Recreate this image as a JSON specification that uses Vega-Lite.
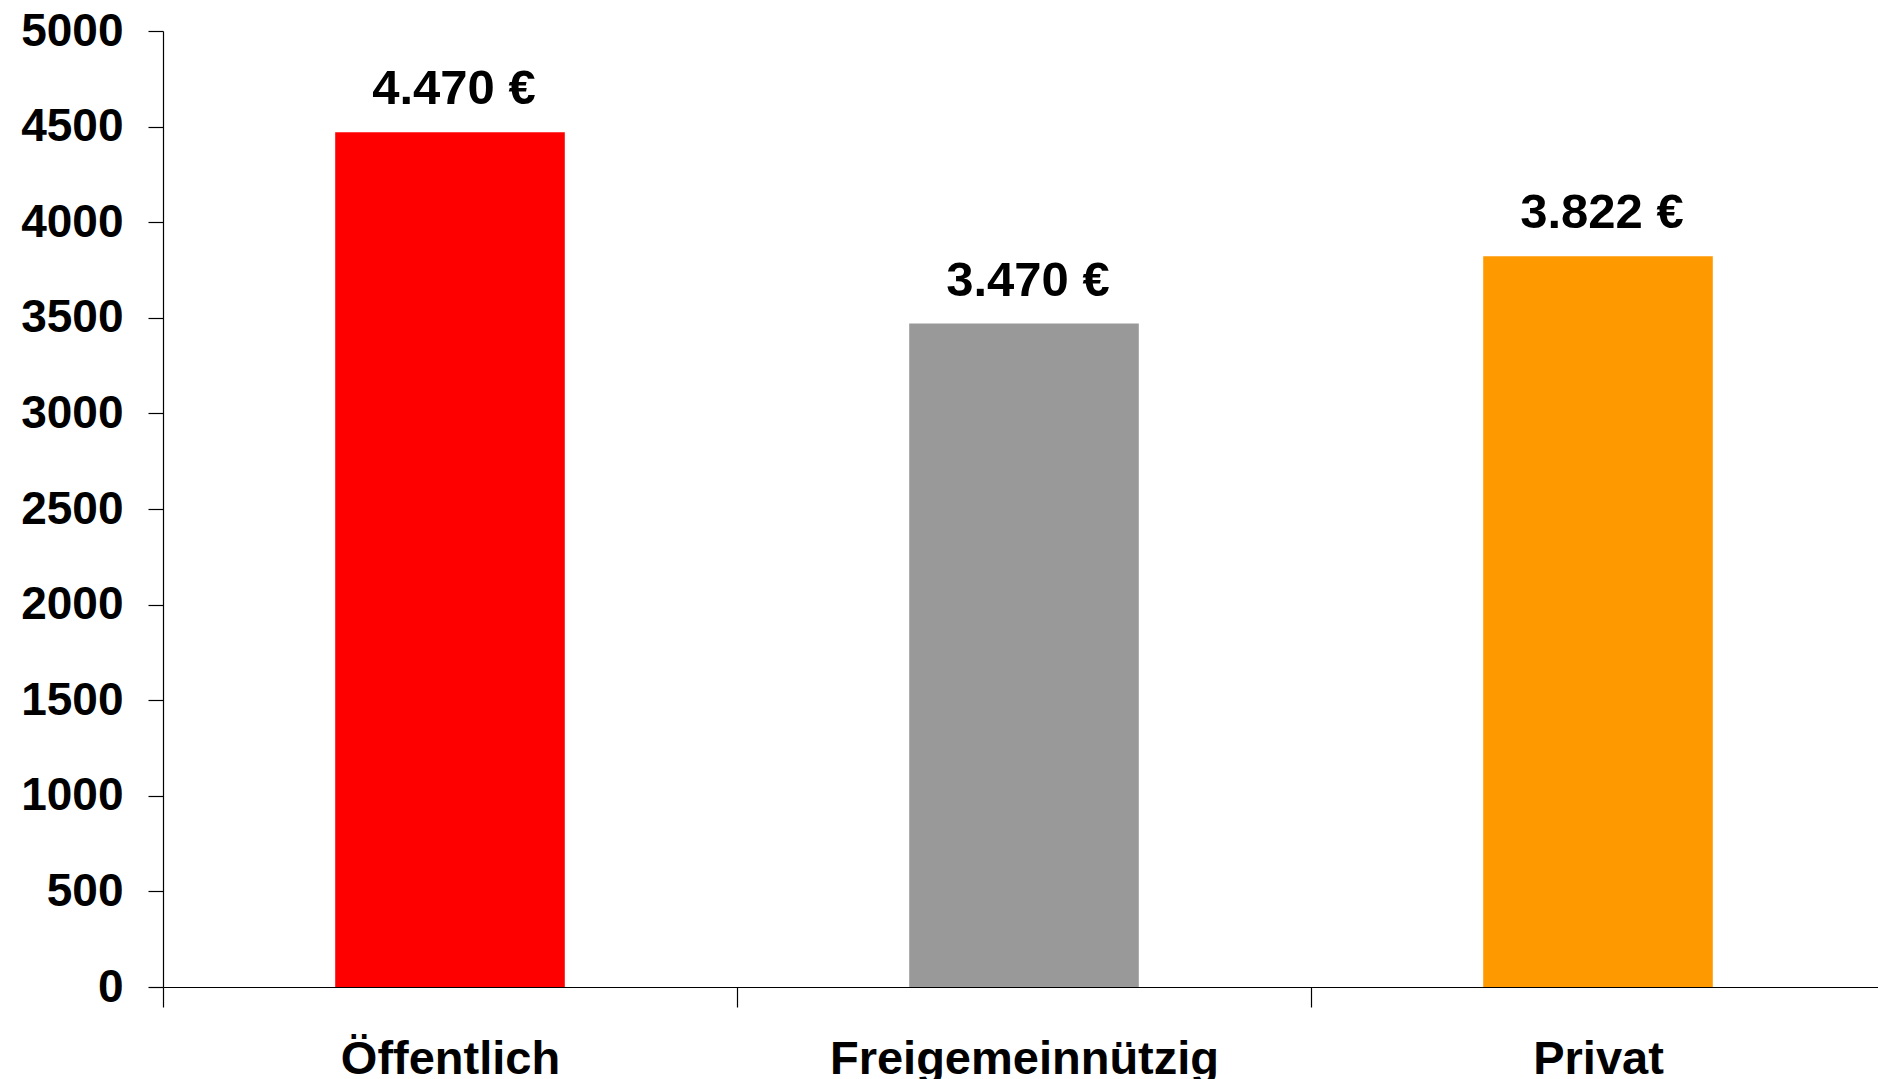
{
  "$schema": "https://vega.github.io/schema/vega-lite/v6.json",
  "autosize": {"type": "none"},
  "width": 1722,
  "height": 956,
  "padding": {"left": 163, "top": 31, "right": 0, "bottom": 92},
  "background": "white",
  "config": {
    "view": {"stroke": null},
    "font": "Liberation Sans",
    "axis": {"grid": false, "domainColor": "black", "tickColor": "black", "domainWidth": 1.2, "tickWidth": 1.2, "labelColor": "black", "labelFont": "Liberation Sans", "labelFontWeight": "bold", "labelLimit": 0, "title": null}
  },
  "data": {
    "values": [
      {"traeger": "Öffentlich", "wert": 4470, "label": "4.470 €"},
      {"traeger": "Freigemeinnützig", "wert": 3470, "label": "3.470 €"},
      {"traeger": "Privat", "wert": 3822, "label": "3.822 €"}
    ]
  },
  "encoding": {
    "x": {
      "field": "traeger", "type": "nominal", "sort": null,
      "scale": {"paddingInner": 0, "paddingOuter": 0},
      "axis": {"labelAngle": 0, "labelFontSize": 47, "tickSize": 20, "tickBand": "extent", "labelPadding": 29}
    },
    "y": {
      "field": "wert", "type": "quantitative",
      "scale": {"domain": [0, 5000], "nice": false},
      "axis": {"values": [0, 500, 1000, 1500, 2000, 2500, 3000, 3500, 4000, 4500, 5000], "format": "d", "labelFontSize": 46, "tickSize": 15, "labelPadding": 25}
    }
  },
  "layer": [
    {
      "mark": {"type": "bar", "width": {"band": 0.4}},
      "encoding": {
        "color": {
          "field": "traeger", "type": "nominal", "sort": null,
          "scale": {"domain": ["Öffentlich", "Freigemeinnützig", "Privat"], "range": ["#FF0000", "#999999", "#FF9900"]},
          "legend": null
        }
      }
    },
    {
      "mark": {"type": "text", "fontSize": 49, "fontWeight": "bold", "color": "black", "baseline": "alphabetic", "dy": -28, "dx": 4},
      "encoding": {"text": {"field": "label"}}
    }
  ]
}
